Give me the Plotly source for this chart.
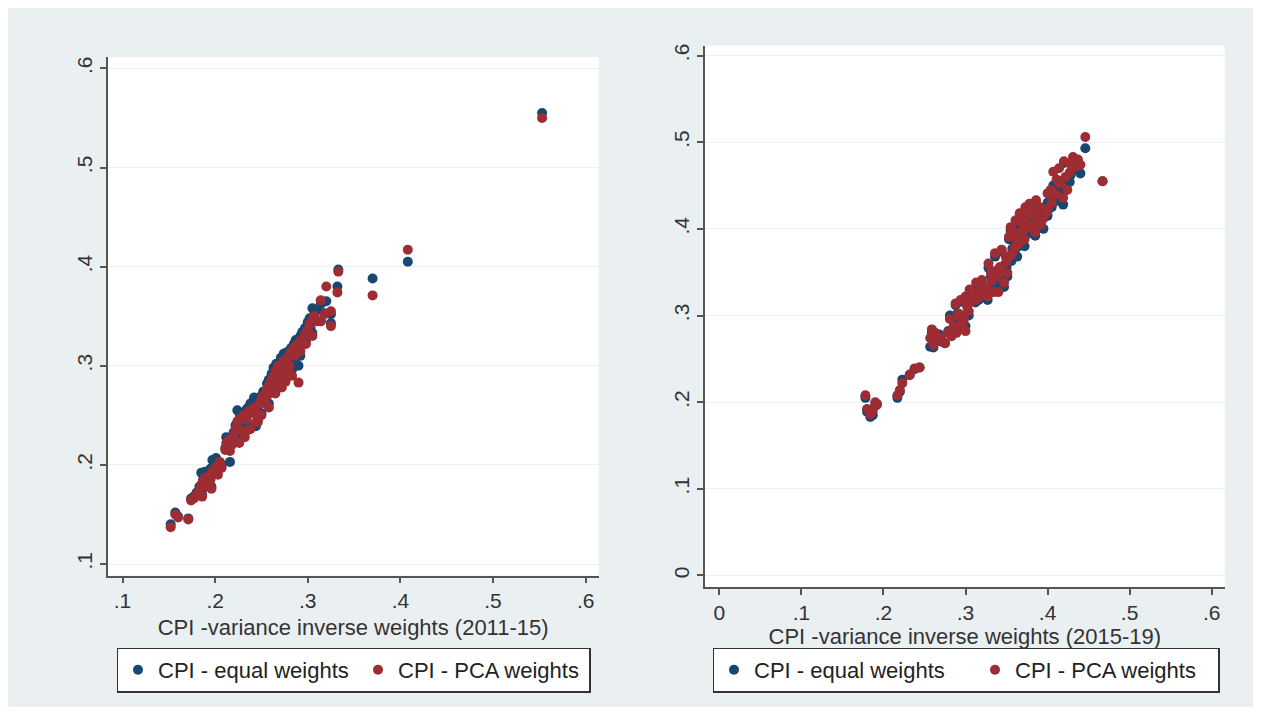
import plotly.graph_objects as go

# ---------------- data ----------------
# Left panel (2011-15): x = CPI variance inverse weights, y = other CPIs
left_x = [0.152, 0.157, 0.160, 0.171, 0.174, 0.177, 0.180, 0.183, 0.185, 0.187,
          0.189, 0.191, 0.193, 0.195, 0.197, 0.199, 0.201, 0.203, 0.205, 0.212,
          0.216, 0.215, 0.218, 0.220, 0.222, 0.224, 0.227, 0.229, 0.231, 0.234,
          0.236, 0.238, 0.244, 0.242, 0.244, 0.246, 0.248, 0.250, 0.252, 0.254,
          0.256, 0.258, 0.259, 0.261, 0.263, 0.264, 0.266, 0.268, 0.269, 0.271,
          0.273, 0.274, 0.276, 0.278, 0.280, 0.282, 0.285, 0.287, 0.290, 0.292,
          0.294, 0.297, 0.300, 0.302, 0.305, 0.307, 0.310, 0.314, 0.320, 0.325,
          0.325, 0.332, 0.333, 0.370, 0.408, 0.553,
          0.270, 0.276, 0.283, 0.279, 0.272, 0.265, 0.258, 0.250, 0.246, 0.238,
          0.232, 0.226, 0.211, 0.207, 0.196, 0.186, 0.298, 0.305, 0.292, 0.286,
          0.300, 0.314, 0.318, 0.303, 0.255, 0.243]
left_equal = [0.140, 0.152, 0.148, 0.146, 0.166, 0.168, 0.172, 0.178, 0.192, 0.185,
              0.193, 0.182, 0.190, 0.196, 0.205, 0.200, 0.207, 0.200, 0.202, 0.228,
              0.203, 0.226, 0.222, 0.233, 0.240, 0.255, 0.250, 0.238, 0.252, 0.256,
              0.258, 0.262, 0.239, 0.268, 0.262, 0.255, 0.266, 0.270, 0.274, 0.270,
              0.282, 0.286, 0.278, 0.292, 0.298, 0.285, 0.302, 0.296, 0.290, 0.308,
              0.300, 0.312, 0.295, 0.314, 0.305, 0.318, 0.322, 0.326, 0.300, 0.330,
              0.334, 0.338, 0.344, 0.348, 0.358, 0.352, 0.356, 0.362, 0.365, 0.352,
              0.343, 0.380, 0.397, 0.388, 0.405, 0.555,
              0.287, 0.290, 0.296, 0.300, 0.282, 0.275, 0.262, 0.252, 0.245, 0.238,
              0.232, 0.226, 0.217, 0.200, 0.178, 0.170, 0.325, 0.333, 0.310, 0.305,
              0.330, 0.345, 0.353, 0.338, 0.265, 0.258]
left_pca = [0.137, 0.150, 0.147, 0.145, 0.164, 0.166, 0.170, 0.174, 0.180, 0.183,
            0.187, 0.178, 0.188, 0.185, 0.193, 0.195, 0.198, 0.190, 0.203, 0.222,
            0.214, 0.225, 0.220, 0.230, 0.236, 0.244, 0.247, 0.235, 0.250, 0.246,
            0.254, 0.252, 0.243, 0.258, 0.255, 0.248, 0.262, 0.266, 0.270, 0.262,
            0.276, 0.280, 0.272, 0.286, 0.290, 0.282, 0.295, 0.300, 0.287, 0.298,
            0.292, 0.305, 0.284, 0.308, 0.300, 0.314, 0.318, 0.320, 0.283, 0.325,
            0.322, 0.332, 0.335, 0.342, 0.346, 0.350, 0.345, 0.366, 0.380, 0.355,
            0.340, 0.374, 0.395, 0.371, 0.417, 0.550,
            0.283, 0.286, 0.290, 0.296, 0.278, 0.272, 0.258, 0.250, 0.243, 0.236,
            0.228, 0.222, 0.215, 0.197, 0.176, 0.168, 0.322, 0.330, 0.315, 0.310,
            0.336, 0.345, 0.352, 0.342, 0.268, 0.256]

# Right panel (2015-19)
right_x = [0.178, 0.180, 0.184, 0.187, 0.190, 0.192, 0.217, 0.220, 0.223, 0.232,
           0.238, 0.244, 0.257, 0.259, 0.261, 0.266, 0.270, 0.275, 0.279, 0.281,
           0.284, 0.286, 0.288, 0.290, 0.293, 0.294, 0.298, 0.300, 0.302, 0.305,
           0.307, 0.310, 0.313, 0.316, 0.320, 0.323, 0.326, 0.328, 0.331, 0.334,
           0.336, 0.338, 0.340, 0.342, 0.344, 0.347, 0.349, 0.351, 0.353, 0.355,
           0.357, 0.359, 0.361, 0.363, 0.366, 0.368, 0.371, 0.373, 0.375, 0.378,
           0.380, 0.383, 0.386, 0.388, 0.391, 0.395, 0.398, 0.400, 0.404, 0.407,
           0.411, 0.414, 0.419, 0.420, 0.424, 0.427, 0.431, 0.435, 0.440, 0.446,
           0.467,
           0.372, 0.385, 0.392, 0.380, 0.365, 0.360, 0.350, 0.345, 0.339, 0.332,
           0.327, 0.318, 0.312, 0.304, 0.296, 0.300, 0.292, 0.405, 0.410, 0.415,
           0.422, 0.428, 0.437, 0.400, 0.387, 0.376, 0.356, 0.362, 0.369, 0.263,
           0.268, 0.283, 0.289]
right_equal = [0.205, 0.189, 0.183, 0.185, 0.196, 0.198, 0.205, 0.212, 0.226, 0.232,
               0.238, 0.240, 0.264, 0.280, 0.263, 0.272, 0.270, 0.268, 0.282, 0.300,
               0.283, 0.290, 0.312, 0.302, 0.292, 0.316, 0.300, 0.318, 0.312, 0.325,
               0.327, 0.330, 0.333, 0.318, 0.335, 0.325, 0.329, 0.355, 0.345, 0.330,
               0.368, 0.350, 0.335, 0.348, 0.374, 0.333, 0.360, 0.345, 0.388, 0.398,
               0.377, 0.385, 0.405, 0.368, 0.412, 0.400, 0.395, 0.420, 0.410, 0.425,
               0.415, 0.398, 0.428, 0.408, 0.420, 0.400, 0.418, 0.430, 0.440, 0.450,
               0.448, 0.455, 0.428, 0.476, 0.456, 0.454, 0.478, 0.470, 0.464, 0.493,
               0.455,
               0.380, 0.392, 0.405, 0.395, 0.380, 0.372, 0.355, 0.345, 0.342, 0.338,
               0.318, 0.325, 0.315, 0.300, 0.285, 0.288, 0.298, 0.425, 0.432, 0.440,
               0.445, 0.462, 0.468, 0.415, 0.403, 0.398, 0.363, 0.390, 0.405, 0.272,
               0.278, 0.279, 0.293]
right_pca = [0.208, 0.192, 0.186, 0.190, 0.200, 0.197, 0.208, 0.214, 0.222, 0.231,
             0.239, 0.240, 0.274, 0.284, 0.266, 0.275, 0.274, 0.268, 0.280, 0.296,
             0.283, 0.287, 0.314, 0.300, 0.289, 0.318, 0.296, 0.322, 0.310, 0.330,
             0.316, 0.326, 0.338, 0.321, 0.341, 0.327, 0.333, 0.360, 0.350, 0.327,
             0.372, 0.352, 0.327, 0.356, 0.376, 0.338, 0.368, 0.349, 0.391, 0.402,
             0.372, 0.391, 0.410, 0.387, 0.418, 0.407, 0.399, 0.425, 0.414, 0.429,
             0.422, 0.399, 0.433, 0.410, 0.425, 0.412, 0.422, 0.441, 0.445, 0.466,
             0.457, 0.470, 0.436, 0.478, 0.445, 0.465, 0.483, 0.472, 0.474, 0.506,
             0.455,
             0.388, 0.396, 0.405, 0.404, 0.383, 0.378, 0.362, 0.352, 0.345, 0.340,
             0.322, 0.329, 0.318, 0.305, 0.289, 0.282, 0.302, 0.430, 0.440, 0.452,
             0.460, 0.475, 0.480, 0.420, 0.415, 0.402, 0.370, 0.395, 0.410, 0.280,
             0.272, 0.276, 0.280]

series_names = ["CPI - equal weights", "CPI - PCA weights"]
left_title = "CPI -variance inverse weights (2011-15)"
right_title = "CPI -variance inverse weights (2015-19)"

left_xticks = [0.1, 0.2, 0.3, 0.4, 0.5, 0.6]
left_xtext = [".1", ".2", ".3", ".4", ".5", ".6"]
left_yticks = [0.1, 0.2, 0.3, 0.4, 0.5, 0.6]
left_ytext = [".1", ".2", ".3", ".4", ".5", ".6"]
right_xticks = [0, 0.1, 0.2, 0.3, 0.4, 0.5, 0.6]
right_xtext = ["0", ".1", ".2", ".3", ".4", ".5", ".6"]
right_yticks = [0, 0.1, 0.2, 0.3, 0.4, 0.5, 0.6]
right_ytext = ["0", ".1", ".2", ".3", ".4", ".5", ".6"]

# ---------------- style ----------------
NAVY = "#1a476f"
MAROON = "#9e2c33"
FONT = "Liberation Sans, Arial, sans-serif"
TXT = "#333333"
AX = "#555555"
W, H = 1245, 699   # page body adds an 8px margin around the figure
OFF = 8


def px_x(p):
    return (p - OFF) / W


def px_y(p):
    return 1 - (p - OFF) / H


fig = go.Figure()


def add_pair(x, ye, yp, xa, ya, leg, widths):
    fig.add_trace(go.Scatter(x=x, y=ye, mode="markers", name=series_names[0],
                             xaxis=xa, yaxis=ya, legend=leg, legendwidth=widths[0],
                             marker=dict(color=NAVY, size=10)))
    fig.add_trace(go.Scatter(x=x, y=yp, mode="markers", name=series_names[1],
                             xaxis=xa, yaxis=ya, legend=leg, legendwidth=widths[1],
                             marker=dict(color=MAROON, size=10)))


add_pair(left_x, left_equal, left_pca, "x", "y", "legend", (195, 186))
add_pair(right_x, right_equal, right_pca, "x2", "y2", "legend2", (216, 198))


def xaxis(domain, rng, tv, tt, title, standoff, anchor):
    return dict(domain=domain, range=rng, tickvals=tv, ticktext=tt,
                showline=True, linecolor=AX, linewidth=1.5, mirror=False,
                ticks="outside", ticklen=6, tickcolor=AX, tickwidth=1.5,
                showgrid=False, zeroline=False, anchor=anchor,
                tickfont=dict(family=FONT, size=21, color=TXT),
                title=dict(text=title, standoff=standoff,
                           font=dict(family=FONT, size=22, color=TXT)),
                automargin=False)


def yaxis(domain, rng, tv, tt, anchor):
    return dict(domain=domain, range=rng, tickvals=tv, ticktext=tt,
                showline=True, linecolor=AX, linewidth=1.5,
                ticks="outside", ticklen=6, tickcolor=AX, tickwidth=1.5,
                showgrid=True, gridcolor="#edf1f4", gridwidth=1,
                zeroline=False, anchor=anchor, tickangle=-90,
                tickfont=dict(family=FONT, size=21, color=TXT),
                automargin=False)


legend_common = dict(xanchor="left", yanchor="top", orientation="h",
                     bgcolor="white", bordercolor="#333333", borderwidth=1.5,
                     font=dict(family=FONT, size=22, color="#222222"),
                     itemwidth=30, tracegroupgap=0)

fig.update_layout(
    width=W, height=H,
    margin=dict(l=0, r=0, t=0, b=0),
    paper_bgcolor="#eaeff2",
    plot_bgcolor="white",
    font=dict(family=FONT, color=TXT),
    xaxis=xaxis([px_x(107.7), px_x(598.6)], [0.084, 0.614], left_xticks, left_xtext,
                left_title, 8, "y"),
    yaxis=yaxis([px_y(575.5), px_y(57)], [0.0884, 0.6115], left_yticks, left_ytext, "x"),
    xaxis2=xaxis([px_x(704.8), px_x(1224.8)], [-0.0177, 0.616], right_xticks, right_xtext,
                 right_title, 0, "y2"),
    yaxis2=yaxis([px_y(587), px_y(45.6)], [-0.0133, 0.6115], right_yticks, right_ytext, "x2"),
    legend=dict(x=px_x(116.5), y=px_y(647.5), **legend_common),
    legend2=dict(x=px_x(712.5), y=px_y(647.5), **legend_common),
)

fig.write_html("out.html")
